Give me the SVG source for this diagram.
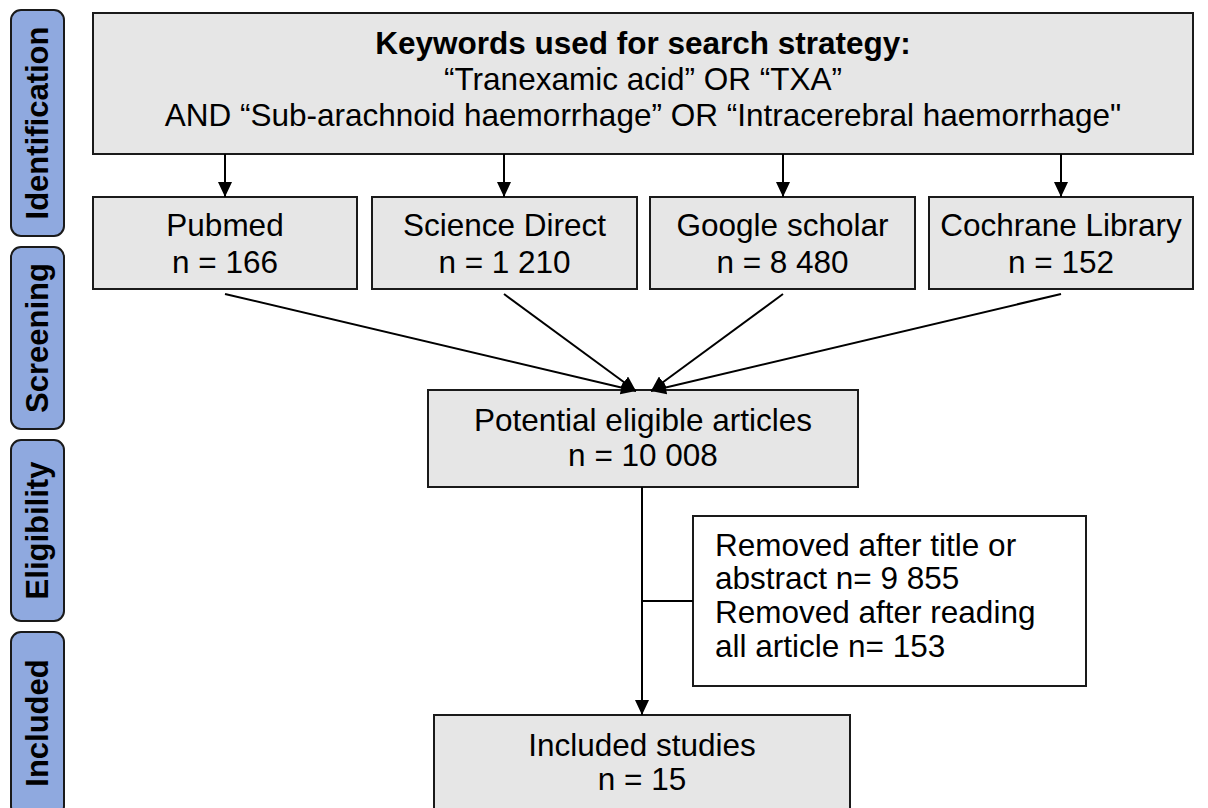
<svg xmlns="http://www.w3.org/2000/svg" width="1208" height="808" viewBox="0 0 1208 808">
<style>
.box{fill:#e6e6e6;stroke:#1a1a1a;stroke-width:2}
.wbox{fill:#ffffff;stroke:#1a1a1a;stroke-width:2}
.side{fill:#8fa9df;stroke:#1a1a1a;stroke-width:2}
.t{font-family:"Liberation Sans",Arial,sans-serif;font-size:31.5px;fill:#000}
.c{text-anchor:middle}
.b{font-weight:bold}
.st{font-family:"Liberation Sans",Arial,sans-serif;font-size:31px;font-weight:bold;fill:#000;text-anchor:middle}
.ln{stroke:#000;stroke-width:2;fill:none}
</style>
<defs>
<marker id="ah" markerWidth="15" markerHeight="14" refX="15" refY="7" orient="auto" markerUnits="userSpaceOnUse">
<path d="M0,0 L15,7 L0,14 Z" fill="#000"/>
</marker>
</defs>
<rect width="1208" height="808" fill="#fff"/>
<g id="stage-identification">
<rect class="side" x="11" y="10" width="53" height="226" rx="10"/>
<text class="st" transform="translate(48,123) rotate(-90)">Identification</text>
</g>
<g id="stage-screening">
<rect class="side" x="11" y="247" width="53" height="182" rx="10"/>
<text class="st" transform="translate(48,338) rotate(-90)">Screening</text>
</g>
<g id="stage-eligibility">
<rect class="side" x="11" y="440" width="53" height="181" rx="10"/>
<text class="st" transform="translate(48,530.5) rotate(-90)">Eligibility</text>
</g>
<g id="stage-included">
<rect class="side" x="11" y="632" width="53" height="184" rx="10"/>
<text class="st" transform="translate(48,723) rotate(-90)">Included</text>
</g>
<g id="keywords">
<rect class="box" x="93" y="13" width="1100" height="141"/>
<text class="t c b" x="643" y="54">Keywords used for search strategy:</text>
<text class="t c" x="643" y="90">“Tranexamic acid” OR “TXA”</text>
<text class="t c" x="643" y="126">AND “Sub-arachnoid haemorrhage” OR “Intracerebral haemorrhage"</text>
</g>
<g id="pubmed">
<rect class="box" x="93" y="197" width="264" height="92"/>
<text class="t c" x="225" y="236">Pubmed</text>
<text class="t c" x="225" y="273">n = 166</text>
</g>
<g id="sciencedirect">
<rect class="box" x="372" y="197" width="265" height="92"/>
<text class="t c" x="504.5" y="236">Science Direct</text>
<text class="t c" x="504.5" y="273">n = 1 210</text>
</g>
<g id="googlescholar">
<rect class="box" x="650" y="197" width="265" height="92"/>
<text class="t c" x="782.5" y="236">Google scholar</text>
<text class="t c" x="782.5" y="273">n = 8 480</text>
</g>
<g id="cochrane">
<rect class="box" x="929" y="197" width="264" height="92"/>
<text class="t c" x="1061" y="236">Cochrane Library</text>
<text class="t c" x="1061" y="273">n = 152</text>
</g>
<g id="potential">
<rect class="box" x="428" y="390" width="430" height="97"/>
<text class="t c" x="643" y="431">Potential eligible articles</text>
<text class="t c" x="643" y="466">n = 10 008</text>
</g>
<g id="removed">
<rect class="wbox" x="693" y="516" width="393" height="170"/>
<text class="t" x="715" y="556">Removed after title or</text>
<text class="t" x="715" y="589">abstract n= 9 855</text>
<text class="t" x="715" y="623">Removed after reading</text>
<text class="t" x="715" y="657">all article n= 153</text>
</g>
<g id="included">
<rect class="box" x="434" y="715" width="416" height="100"/>
<text class="t c" x="642" y="756">Included studies</text>
<text class="t c" x="642" y="790">n = 15</text>
</g>
<g id="connectors">
<line class="ln" x1="225" y1="154" x2="225" y2="197" marker-end="url(#ah)"/>
<line class="ln" x1="504" y1="154" x2="504" y2="197" marker-end="url(#ah)"/>
<line class="ln" x1="783" y1="154" x2="783" y2="197" marker-end="url(#ah)"/>
<line class="ln" x1="1061" y1="154" x2="1061" y2="197" marker-end="url(#ah)"/>
<line class="ln" x1="225" y1="294" x2="636" y2="391" marker-end="url(#ah)"/>
<line class="ln" x1="504" y1="294" x2="636" y2="391" marker-end="url(#ah)"/>
<line class="ln" x1="783" y1="294" x2="651" y2="391" marker-end="url(#ah)"/>
<line class="ln" x1="1061" y1="294" x2="651" y2="391" marker-end="url(#ah)"/>
<line class="ln" x1="642" y1="487" x2="642" y2="715" marker-end="url(#ah)"/>
<line class="ln" x1="642" y1="601" x2="693" y2="601"/>
</g>
</svg>
